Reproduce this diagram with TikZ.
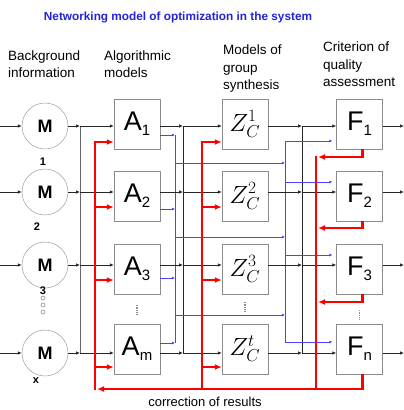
\documentclass[tikz,border=0pt]{standalone}
\usepackage{fontspec}
\setmainfont{Liberation Sans}
\usetikzlibrary{arrows.meta}

\definecolor{ttlblue}{RGB}{35,35,215}
\definecolor{lnblue}{RGB}{70,70,255}
\definecolor{boxgray}{RGB}{140,140,140}

\newcommand{\boxlab}[2]{{\fontsize{27}{27}\selectfont #1}\raisebox{-5pt}{\fontsize{15}{15}\selectfont #2}}
\newcommand{\zlab}[1]{{\fontsize{24}{24}\selectfont $Z_C^{#1}$}}

\tikzset{
  circ/.style={circle, draw=boxgray, minimum size=46pt, inner sep=0pt, font=\fontsize{18}{18}\selectfont\bfseries},
  modbox/.style={rectangle, draw=boxgray, minimum width=46pt, minimum height=50pt, inner sep=0pt},
  idx/.style={font=\fontsize{11}{11}\selectfont\bfseries, inner sep=0pt},
  hdr/.style={align=left, anchor=north west, inner sep=0pt, font=\fontsize{13.5}{16.5}\selectfont},
  flow/.style={draw=black!85, line width=0.7pt, -{Latex[length=4pt,width=3.5pt]}},
  bus/.style={draw=black!85, line width=0.8pt},
  fb/.style={draw=red, line width=2.2pt, -{Latex[length=7pt,width=6pt]}},
  fbline/.style={draw=red, line width=2.2pt, line cap=rect},
  bl/.style={draw=lnblue, line width=0.6pt},
  bla/.style={draw=lnblue, line width=0.6pt, -{Latex[length=3pt,width=3pt]}},
}

\begin{document}
\begin{tikzpicture}[x=1pt, y=-1pt]
    \useasboundingbox (0,0) rectangle (404,410);
    % title and column headers
    \node[font=\fontsize{11.8}{11.8}\selectfont\bfseries, text=ttlblue] (title) at (178,17) {Networking model of optimization in the system};
    \node[hdr] (hbg) at (8,51) {Background\\information};
    \node[hdr] (halg) at (104,51) {Algorithmic\\models};
    \node[hdr, font=\fontsize{13.5}{17.5}\selectfont] (hgrp) at (223,45) {Models of\\group\\synthesis};
    \node[hdr, font=\fontsize{13.5}{17.5}\selectfont] (hcrit) at (323,42) {Criterion of\\quality\\assessment};
    % sources
    \node[circ] (m1) at (45,126) {M};
    \node[circ] (m2) at (45,192) {M};
    \node[circ] (m3) at (45,265) {M};
    \node[circ] (m4) at (45,353) {M};
    \node[idx] (n1) at (43,162) {1};
    \node[idx] (n2) at (37,227) {2};
    \node[idx] (n3) at (43,291) {3};
    \node[idx] (n4) at (36,381) {x};
    \foreach \y in {298,305,312} \draw[boxgray, line width=0.6pt] (43,\y) circle (2);
    % model boxes
    \node[modbox] (a1) at (137,124) {\boxlab{A}{1}};
    \node[modbox] (a2) at (137,196) {\boxlab{A}{2}};
    \node[modbox] (a3) at (137,269) {\boxlab{A}{3}};
    \node[modbox] (a4) at (137,349) {\boxlab{A}{m}};
    \node[modbox] (z1) at (245,124) {\zlab{1}};
    \node[modbox] (z2) at (245,196) {\zlab{2}};
    \node[modbox] (z3) at (245,269) {\zlab{3}};
    \node[modbox] (z4) at (245,349) {\zlab{t}};
    \node[modbox] (f1) at (359.5,124) {\boxlab{F}{1}};
    \node[modbox] (f2) at (359.5,196) {\boxlab{F}{2}};
    \node[modbox] (f3) at (359.5,269) {\boxlab{F}{3}};
    \node[modbox] (f4) at (359.5,349) {\boxlab{F}{n}};
    \draw[boxgray, densely dotted, line width=1.2pt] (a3.south) ++(0,11) -- ++(0,11);
    \draw[boxgray, densely dotted, line width=1.2pt] (z3.south) ++(0,8) -- ++(0,11);
    \draw[boxgray, densely dotted, line width=1.2pt] (f3.south) ++(0,16) -- ++(0,11);
    % buses
    \draw[bus, draw=black!60] (80,126) -- (80,353);
    \draw[bus] (183,126) -- (183,353);
    \draw[bus] (302,126) -- (302,353);
    \draw[bl] (175,135) -- (175,343);
    \draw[bl] (285,141) -- (285,342);
    \foreach \y in {163,237,315} \draw[bla] (175,\y) -- (285,\y);
    % rows
    \foreach \i/\y/\ry/\by/\fy in {1/126/142/135/141, 2/192/207/209/182, 3/265/280/278/255, 4/353/367/343/342} {
        \draw[flow] (0,\y) -- (m\i.west);
        \draw[flow] (m\i.east) -- (80,\y);
        \draw[flow] (80,\y) -- (a\i.west |- 0,\y);
        \draw[flow] (a\i.east |- 0,\y) -- (183,\y);
        \draw[flow] (183,\y) -- (z\i.west |- 0,\y);
        \draw[flow] (z\i.east |- 0,\y) -- (302,\y);
        \draw[flow] (302,\y) -- (f\i.west |- 0,\y);
        \draw[flow] (f\i.east |- 0,\y) -- (404,\y);
        \draw[bla] (a\i.east |- 0,\by) -- (175,\by);
        \draw[bla, shorten >=4pt] (285,\fy) -- (f\i.west |- 0,\fy);
        \draw[fb] (95,\ry) -- (a\i.west |- 0,\ry);
        \draw[fb] (202,\ry) -- (z\i.west |- 0,\ry);
    }
    % correction of results
    \foreach \i/\yy in {1/157, 2/228, 3/302} \draw[fb] ([xshift=3pt]f\i.south) |- (318,\yy);
    \draw[fbline] (316,157) -- (316,389);
    \draw[fbline] (95,389) -- (95,142);
    \draw[fbline] (202,389) -- (202,142);
    \draw[fb] ([xshift=3pt]f4.south) |- (97,389);
    \node[font=\fontsize{13}{13}\selectfont] (corr) at (205,402) {correction of results};
\end{tikzpicture}
\end{document}
